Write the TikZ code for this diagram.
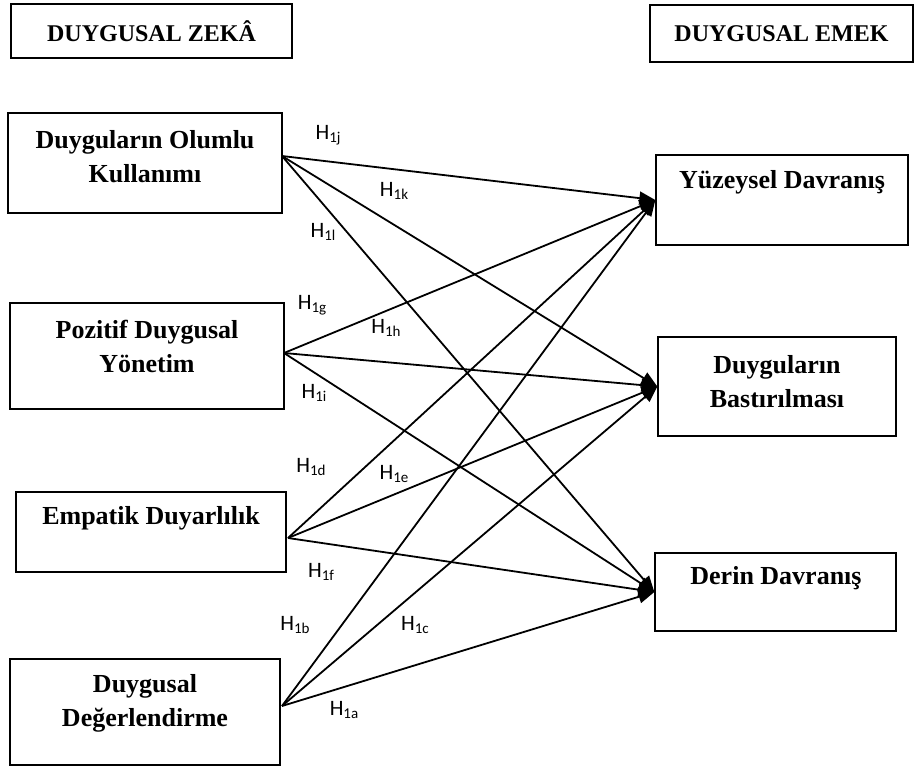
\documentclass[tikz,border=0pt]{standalone}
\usepackage{fontspec}
\setmainfont{Liberation Serif}
\newfontfamily\lblfont{Carlito}
\usetikzlibrary{arrows.meta}
\newcommand\hsub[1]{H\raisebox{-3pt}{\fontsize{15}{15}\selectfont #1}}
\begin{document}
\begin{tikzpicture}[x=1pt,y=-1pt,
  box/.style={draw,line width=1.3pt,inner sep=0pt},
  hdr/.style={font=\bfseries\fontsize{24}{33}\selectfont,align=center,inner sep=0pt},
  ttl/.style={font=\bfseries\fontsize{26}{34}\selectfont,align=center,inner sep=0pt},
  hyp/.style={font=\lblfont\fontsize{22}{24}\selectfont,inner sep=0pt},
  link/.style={line width=1.8pt,-{Triangle[length=16pt,width=13pt]}}]
\useasboundingbox (0,0) rectangle (914,766);
\fill[white] (0,0) rectangle (914,766);

% headings
\node[box,hdr,minimum width=281pt,minimum height=54pt] (zk) at (151.5,31) {DUYGUSAL ZEKÂ};
\node[box,hdr,minimum width=263pt,minimum height=57pt] (em) at (781.5,33.5) {DUYGUSAL EMEK};

% left boxes
\node[box,minimum width=274pt,minimum height=100pt] (b1) at (145,163) {};
\node[box,minimum width=274pt,minimum height=106pt] (b2) at (147,356) {};
\node[box,minimum width=270pt,minimum height=80pt] (b3) at (151,532) {};
\node[box,minimum width=270pt,minimum height=106pt] (b4) at (145,712) {};
\node[ttl] (t1) at (145,157) {Duyguların Olumlu\\Kullanımı};
\node[ttl] (t2) at (147,346) {Pozitif Duygusal\\Yönetim};
\node[ttl] (t3) at (151,518) {Empatik Duyarlılık};
\node[ttl] (t4) at (145,703) {Duygusal\\Değerlendirme};

% right boxes
\node[box,minimum width=252pt,minimum height=90pt] (r1) at (782,200) {};
\node[box,minimum width=238pt,minimum height=99pt] (r2) at (777,386.5) {};
\node[box,minimum width=241pt,minimum height=78pt] (r3) at (775.5,592) {};
\node[ttl] (u1) at (782,182) {Yüzeysel Davranış};
\node[ttl] (u2) at (777,382) {Duyguların\\Bastırılması};
\node[ttl] (u3) at (776,578) {Derin Davranış};

% source points
\coordinate (s1) at (282,156);
\coordinate (s2) at (284,353);
\coordinate (s3) at (288,538);
\coordinate (s4) at (282,706);

% connectors
\foreach \s in {s1,s2,s3,s4}{
  \foreach \r in {r1,r2,r3}{
    \draw[link] (\s) -- (\r.west);
  }
}

% hypothesis labels
\node[hyp] (hj) at (328,135) {\hsub{1j}};
\node[hyp] (hk) at (394,191) {\hsub{1k}};
\node[hyp] (hl) at (323,232) {\hsub{1l}};
\node[hyp] (hg) at (312,305) {\hsub{1g}};
\node[hyp] (hh) at (386,328) {\hsub{1h}};
\node[hyp] (hi) at (314,393) {\hsub{1i}};
\node[hyp] (hd) at (311,467) {\hsub{1d}};
\node[hyp] (he) at (394,474) {\hsub{1e}};
\node[hyp] (hf) at (321,572) {\hsub{1f}};
\node[hyp] (hb) at (295,625) {\hsub{1b}};
\node[hyp] (hc) at (415,625) {\hsub{1c}};
\node[hyp] (ha) at (344,710) {\hsub{1a}};
\end{tikzpicture}
\end{document}
